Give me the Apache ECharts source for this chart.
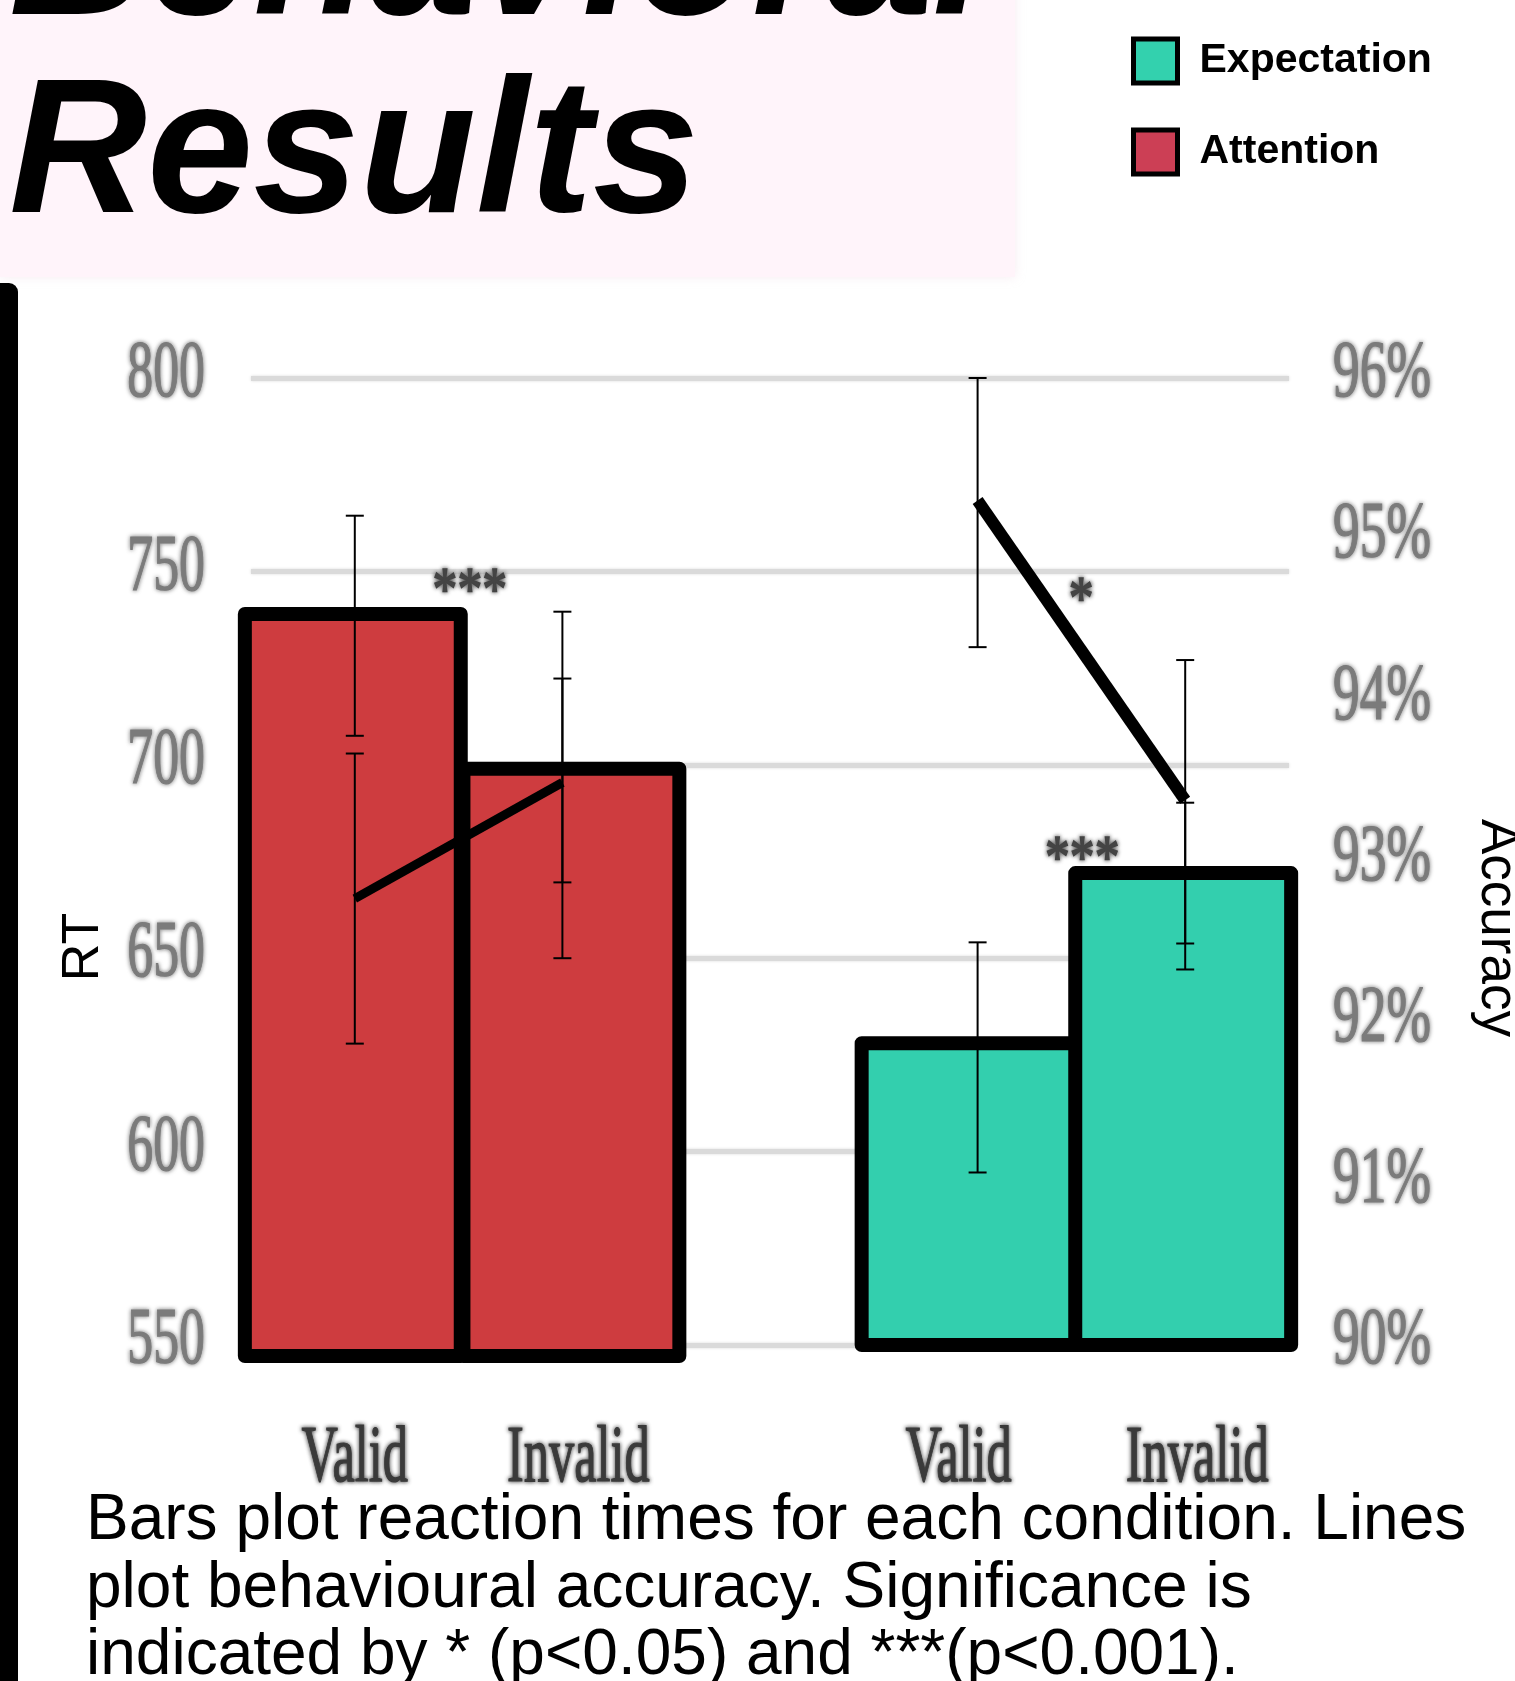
<!DOCTYPE html>
<html>
<head>
<meta charset="utf-8">
<title>Behavioral Results</title>
<script src="https://cdn.jsdelivr.net/npm/echarts@6/dist/echarts.min.js"></script>
<style>
  html, body { margin: 0; padding: 0; background: #ffffff; }
  #chart { width: 1515px; height: 1681px; }
</style>
</head>
<body>
<div id="chart"></div>
<script>
// ---- data -------------------------------------------------------------
const categories = ['Valid', 'Invalid', '', 'Valid', 'Invalid'];
const rtTicks = [550, 600, 650, 700, 750, 800];
const accTicks = [90, 91, 92, 93, 94, 95, 96];

// reaction times (ms), bars
const attentionRT   = [739, 699, '-', '-', '-'];
const expectationRT = ['-', '-', '-', 628, 672];
// reaction-time error bars
const rtLow  = [707.5, 669.6, null, 594.6, 653.8];
const rtHigh = [764.4, 722.3, null, 654.1, 690.2];

// accuracy (%), lines
const attentionAcc   = [92.77, 93.49, '-', '-', '-'];
const expectationAcc = ['-', '-', '-', 95.24, 93.38];
// accuracy error bars
const accLow  = [91.87, 92.40, null, 94.33, 92.33];
const accHigh = [93.67, 94.55, null, 96.00, 94.25];

const captionLines = [
  'Bars plot reaction times for each condition. Lines',
  'plot behavioural accuracy. Significance is',
  'indicated by * (p<0.05) and ***(p<0.001).'
];

// ---- layout / style ---------------------------------------------------
const RT_MIN = rtTicks[0];
const RED = '#CE3C3F';
const TEAL = '#33CFAE';
const BAR_WIDTH_FACTOR = 1.04;          // bars slightly wider than their band
const BAR_SHIFT = [-2, 9, 0, -8, -2];   // horizontal nudge of each bar (px)

function barRows(values) {
  const rows = [];
  values.forEach((v, i) => { if (v !== '-') rows.push([i, v]); });
  return rows;
}

function errorRows(low, high) {
  const rows = [];
  low.forEach((v, i) => { if (v != null) rows.push([i, v, high[i]]); });
  return rows;
}

// outlined bar rising from the axis floor (floorDrop lets a group sit a bit lower)
function barRenderer(fill, floorDrop) {
  return function (params, api) {
    const i = api.value(0);
    const top = api.coord([i, api.value(1)]);
    const base = api.coord([i, RT_MIN]);
    const w = api.size([1, 0])[0] * BAR_WIDTH_FACTOR;
    const cx = top[0] + BAR_SHIFT[i];
    const bottom = base[1] + floorDrop;
    return {
      type: 'rect',
      shape: { x: cx - w / 2, y: top[1], width: w, height: bottom - top[1] },
      style: { fill: fill, stroke: '#000', lineWidth: 14, lineJoin: 'round' }
    };
  };
}

function renderErrorBar(params, api) {
  const x = api.value(0);
  const top = api.coord([x, api.value(2)]);
  const bot = api.coord([x, api.value(1)]);
  const cap = 9;
  const st = { stroke: '#000', lineWidth: 2 };
  return {
    type: 'group',
    children: [
      { type: 'line', shape: { x1: top[0], y1: top[1], x2: bot[0], y2: bot[1] }, style: st },
      { type: 'line', shape: { x1: top[0] - cap, y1: top[1], x2: top[0] + cap, y2: top[1] }, style: st },
      { type: 'line', shape: { x1: bot[0] - cap, y1: bot[1], x2: bot[0] + cap, y2: bot[1] }, style: st }
    ]
  };
}

const chart = echarts.init(document.getElementById('chart'), null, { renderer: 'canvas' });

chart.setOption({
  animation: false,
  backgroundColor: '#ffffff',
  title: {
    text: 'Behavioral\nResults',
    left: 9,
    top: -138,
    padding: 0,
    textStyle: {
      fontFamily: 'Liberation Sans',
      fontWeight: 'bold',
      fontStyle: 'italic',
      fontSize: 191,
      lineHeight: 198,
      color: '#000'
    }
  },
  legend: {
    orient: 'vertical',
    left: 1126,
    top: 31,
    itemWidth: 44,
    itemHeight: 44,
    itemGap: 41,
    icon: 'rect',
    selectedMode: false,
    itemStyle: { borderColor: '#000', borderWidth: 5 },
    textStyle: {
      fontFamily: 'Liberation Sans',
      fontWeight: 'bold',
      fontSize: 41,
      lineHeight: 44,
      color: '#000',
      padding: [6, 0, 0, 17]
    },
    data: [
      { name: 'Expectation', itemStyle: { color: '#33D1AE' } },
      { name: 'Attention', itemStyle: { color: '#CC3F55' } }
    ]
  },
  grid: { left: 251, right: 226, top: 378, bottom: 336 },
  xAxis: {
    type: 'category',
    data: categories,
    axisLine: { show: false },
    axisTick: { show: false },
    axisLabel: { show: false },
    splitLine: { show: false }
  },
  yAxis: [
    {
      type: 'value', min: 550, max: 800, interval: 50,
      axisLine: { show: false }, axisTick: { show: false }, axisLabel: { show: false },
      splitLine: { show: true, lineStyle: { color: '#dadada', width: 5, shadowBlur: 3, shadowColor: '#dadada' } }
    },
    {
      type: 'value', min: 90, max: 96, interval: 1, position: 'right',
      axisLine: { show: false }, axisTick: { show: false }, axisLabel: { show: false },
      splitLine: { show: false }
    }
  ],
  series: [
    {
      name: 'Attention', type: 'custom', yAxisIndex: 0, z: 2,
      itemStyle: { color: RED },
      renderItem: barRenderer(RED, 11), encode: { x: 0, y: 1 },
      data: barRows(attentionRT)
    },
    {
      name: 'Expectation', type: 'custom', yAxisIndex: 0, z: 2,
      itemStyle: { color: TEAL },
      renderItem: barRenderer(TEAL, 0), encode: { x: 0, y: 1 },
      data: barRows(expectationRT)
    },
    {
      name: 'Attention accuracy', type: 'line', data: attentionAcc, yAxisIndex: 1,
      symbol: 'none', z: 4, lineStyle: { color: '#000', width: 9, cap: 'butt' }
    },
    {
      name: 'Expectation accuracy', type: 'line', data: expectationAcc, yAxisIndex: 1,
      symbol: 'none', z: 4, lineStyle: { color: '#000', width: 12, cap: 'butt' }
    },
    {
      name: 'RT error', type: 'custom', yAxisIndex: 0, z: 5,
      renderItem: renderErrorBar, encode: { x: 0, y: [1, 2] },
      data: errorRows(rtLow, rtHigh)
    },
    {
      name: 'Accuracy error', type: 'custom', yAxisIndex: 1, z: 5,
      renderItem: renderErrorBar, encode: { x: 0, y: [1, 2] },
      data: errorRows(accLow, accHigh)
    }
  ],
  graphic: [
    {
      id: 'titlePanel', type: 'rect', z: -10,
      shape: { x: 0, y: -20, width: 1015, height: 297 },
      style: { fill: '#FFF4FA', shadowBlur: 10, shadowColor: 'rgba(230,200,215,0.35)' }
    },
    {
      id: 'sideRule', type: 'rect', z: 10,
      shape: { x: 0, y: 283, width: 18, height: 1420, r: [0, 9, 0, 0] },
      style: { fill: '#000' }
    },
    {
      id: 'caption', type: 'text', z: 10, x: 86, y: 1488,
      style: {
        text: captionLines.join('\n'),
        fontFamily: 'Liberation Sans', fontSize: 64, lineHeight: 67.5,
        fill: '#000', align: 'left', verticalAlign: 'top'
      }
    },
    {
      id: 'rtName', type: 'text', z: 10, x: 84, y: 947, rotation: Math.PI / 2,
      style: {
        text: 'RT', fontFamily: 'Liberation Sans', fontSize: 52,
        fill: '#000', align: 'center', verticalAlign: 'middle'
      }
    },
    {
      id: 'accName', type: 'text', z: 10, x: 1497, y: 928, rotation: -Math.PI / 2,
      style: {
        text: 'Accuracy', fontFamily: 'Liberation Sans', fontSize: 53,
        fill: '#000', align: 'center', verticalAlign: 'middle'
      }
    }
  ]
});

// ---- axis labels and significance marks in the condensed serif face ----
const yRT = v => chart.convertToPixel({ yAxisIndex: 0 }, v);
const yAcc = v => chart.convertToPixel({ yAxisIndex: 1 }, v);
const xCat = i => chart.convertToPixel({ xAxisIndex: 0 }, i);

function softText(id, text, x, y, opts) {
  return {
    id, type: 'text', x, y, z: 8,
    scaleX: opts.scaleX, scaleY: 1,
    style: {
      text,
      fontFamily: 'Liberation Serif',
      fontSize: opts.size,
      fill: opts.color,
      stroke: opts.color,
      lineWidth: opts.weight || 1.2,
      align: opts.align,
      verticalAlign: 'middle',
      textShadowColor: opts.color,
      textShadowBlur: 4
    }
  };
}

const extra = [];
rtTicks.forEach(v => {
  extra.push(softText('rt' + v, String(v), 205, yRT(v) - 3,
    { size: 81, scaleX: 0.64, color: '#7b7b7b', align: 'right' }));
});
accTicks.forEach(v => {
  extra.push(softText('acc' + v, v + '%', 1333, yAcc(v) - 3,
    { size: 81, scaleX: 0.66, color: '#7b7b7b', align: 'left' }));
});
const labelNudge = [0, 16, 0, -19, 12];
categories.forEach((c, i) => {
  if (!c) return;
  extra.push(softText('cat' + i, c, xCat(i) + labelNudge[i], 1460,
    { size: 80, scaleX: 0.63, color: '#3a3a3a', align: 'center' }));
});
const between = (a, b, t) => xCat(a) + (xCat(b) - xCat(a)) * t;
extra.push(softText('sigAttRT', '***', between(0, 1, 0.554), yRT(746.7) + 9,
  { size: 62, scaleX: 0.8, color: '#444', align: 'center', weight: 1.6 }));
extra.push(softText('sigExpAcc', '*', between(3, 4, 0.499), yAcc(94.67) + 9,
  { size: 62, scaleX: 0.8, color: '#444', align: 'center', weight: 1.6 }));
extra.push(softText('sigExpRT', '***', between(3, 4, 0.504), yRT(677.5) + 9,
  { size: 62, scaleX: 0.8, color: '#444', align: 'center', weight: 1.6 }));

chart.setOption({ graphic: extra });
</script>
</body>
</html>
